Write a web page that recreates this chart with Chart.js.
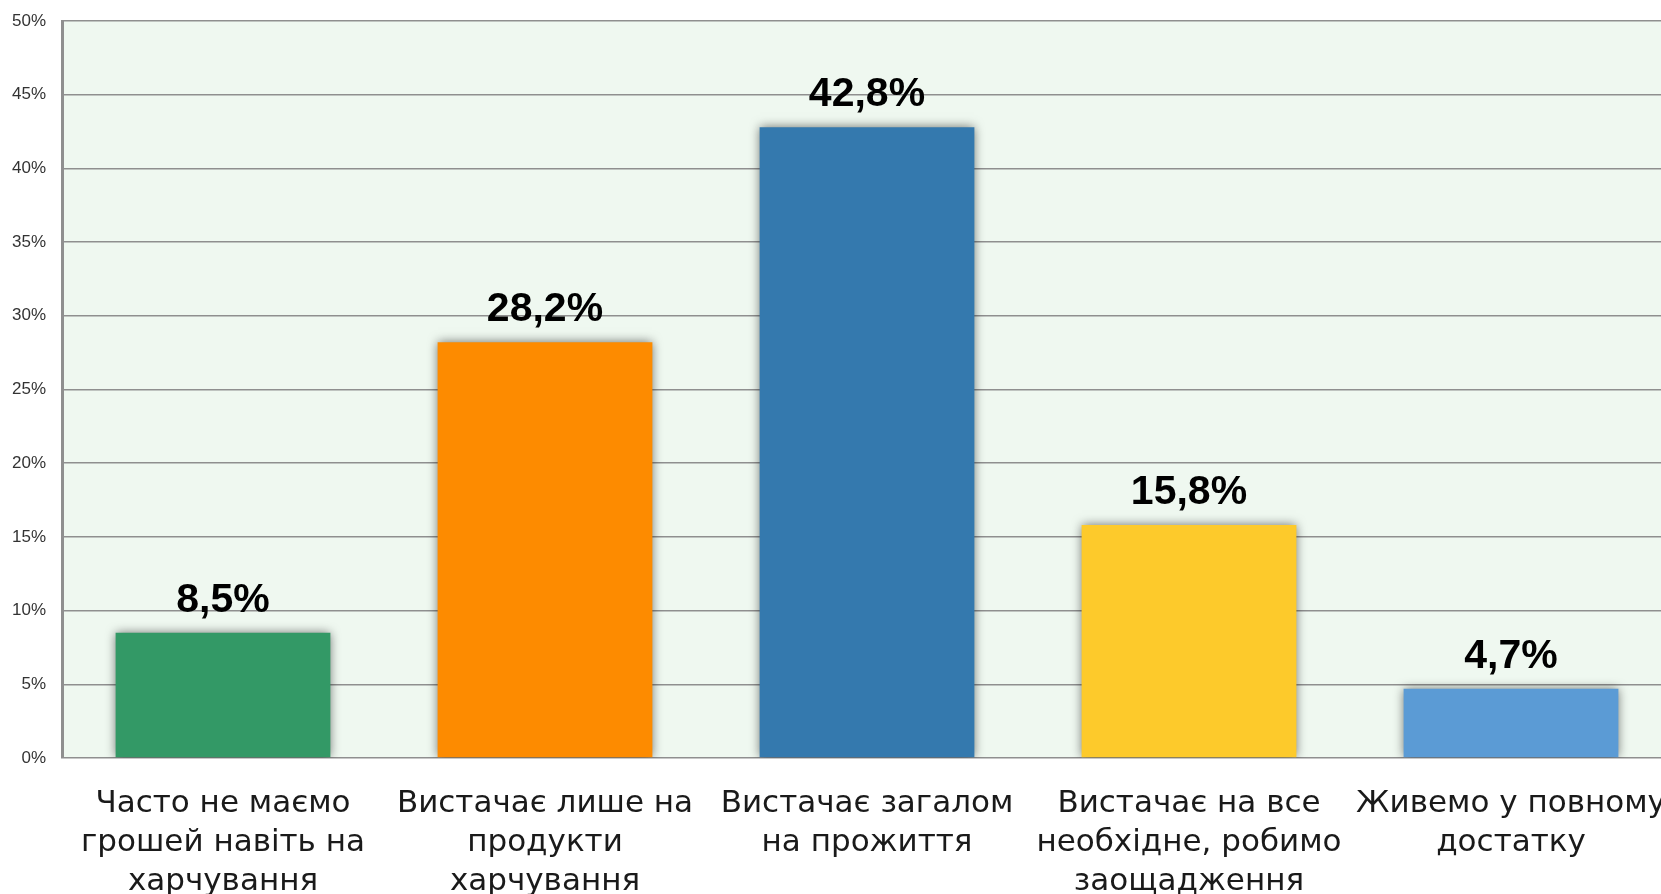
<!DOCTYPE html>
<html>
<head>
<meta charset="utf-8">
<script src="https://cdn.jsdelivr.net/npm/chart.js@4"></script>
<style>
  html, body { margin: 0; padding: 0; background: #fff; overflow: hidden; }
  #wrap { width: 1680px; height: 894px; }
</style>
</head>
<body>
<div id="wrap"><canvas id="chart" width="1680" height="894"></canvas></div>
<script>
// дані
const categories = [
  ['Часто не маємо', 'грошей навіть на', 'харчування'],
  ['Вистачає лише на', 'продукти', 'харчування'],
  ['Вистачає загалом', 'на прожиття'],
  ['Вистачає на все', 'необхідне, робимо', 'заощадження'],
  ['Живемо у повному', 'достатку']
];
const values = [8.5, 28.2, 42.8, 15.8, 4.7];
const valueLabels = ['8,5%', '28,2%', '42,8%', '15,8%', '4,7%'];
const barColors = ['#339966', '#fd8b00', '#3479ae', '#fdca2b', '#5b9bd5'];
const yTicks = [0, 5, 10, 15, 20, 25, 30, 35, 40, 45, 50];

// фон області графіка
const plotBg = {
  id: 'plotBg',
  beforeDraw(chart) {
    const { ctx, chartArea: a } = chart;
    ctx.save();
    ctx.fillStyle = '#eff8f0';
    ctx.fillRect(a.left, a.top, a.right - a.left, a.bottom - a.top);
    ctx.restore();
  }
};

// тінь під стовпчиками
const barShadow = {
  id: 'barShadow',
  beforeDatasetDraw(chart) {
    const ctx = chart.ctx;
    ctx.save();
    ctx.shadowColor = 'rgba(0,0,0,0.55)';
    ctx.shadowBlur = 10;
    ctx.shadowOffsetX = 0;
    ctx.shadowOffsetY = 0;
  },
  afterDatasetDraw(chart) {
    chart.ctx.restore();
  }
};

// підписи значень
const valueLabelsPlugin = {
  id: 'valueLabels',
  afterDatasetsDraw(chart) {
    const ctx = chart.ctx;
    const meta = chart.getDatasetMeta(0);
    ctx.save();
    ctx.font = 'bold 41px "Liberation Sans", Arial, sans-serif';
    ctx.fillStyle = '#000';
    ctx.textAlign = 'center';
    ctx.textBaseline = 'alphabetic';
    meta.data.forEach((bar, i) => {
      ctx.fillText(valueLabels[i], bar.x, bar.y - 21);
    });
    ctx.restore();
  }
};

new Chart(document.getElementById('chart'), {
  type: 'bar',
  data: {
    labels: categories,
    datasets: [{
      data: values,
      backgroundColor: barColors,
      borderWidth: 0,
      barPercentage: 0.667,
      categoryPercentage: 1.0
    }]
  },
  options: {
    responsive: false,
    animation: false,
    events: [],
    layout: { padding: { top: 21, right: 8, left: 0, bottom: 0 } },
    plugins: { legend: { display: false }, tooltip: { enabled: false } },
    scales: {
      x: {
        grid: { display: false, drawTicks: false },
        border: { display: false },
        ticks: {
          color: '#1a1a1a',
          font: { family: '"DejaVu Sans", sans-serif', size: 31, lineHeight: 1.27 },
          padding: 26,
          maxRotation: 0,
          autoSkip: false
        },
        afterFit(scale) {
          scale.height = 136;
          scale.paddingLeft = 0;
          scale.paddingRight = 0;
        }
      },
      y: {
        min: 0,
        max: 50,
        afterBuildTicks(scale) { scale.ticks = yTicks.map(v => ({ value: v })); },
        grid: { color: '#8f8f8f', lineWidth: 1.6, drawTicks: false },
        border: { color: '#8f8f8f', width: 3 },
        ticks: {
          color: '#333',
          font: { family: '"Liberation Sans", Arial, sans-serif', size: 17 },
          padding: 16,
          callback: v => v + '%'
        },
        afterFit(scale) {
          scale.width = 62;
          scale.paddingTop = 0;
          scale.paddingBottom = 0;
        }
      }
    }
  },
  plugins: [plotBg, barShadow, valueLabelsPlugin]
});
</script>
</body>
</html>
